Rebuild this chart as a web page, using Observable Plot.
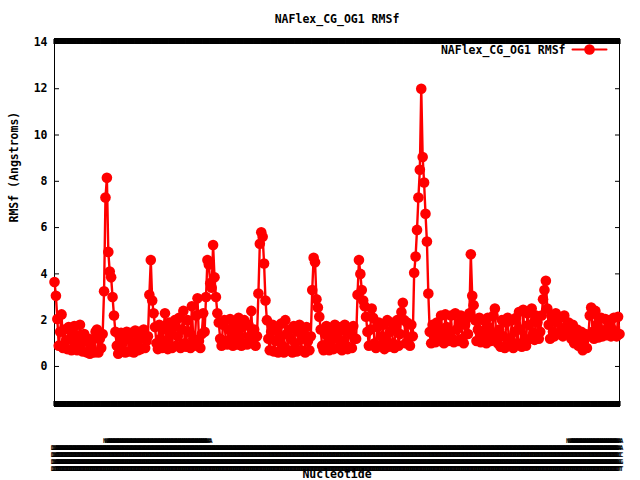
<!DOCTYPE html>
<html><head><meta charset="utf-8">
<script src="https://cdn.jsdelivr.net/npm/d3@7"></script>
<script src="https://cdn.jsdelivr.net/npm/@observablehq/plot@0.6"></script>
<style>body{margin:0;background:#fff;} svg{display:block}</style>
</head><body><div id="chart"></div>
<script>
const chartTitle = "NAFlex_CG_OG1 RMSf";
const seriesName = "NAFlex_CG_OG1 RMSf";
const yLabel = "RMSf (Angstroms)";
const xLabel = "Nucleotide";
const yTicks = [0, 2, 4, 6, 8, 10, 12, 14];
// RMSf per nucleotide
const rmsf = [
3.65,3.05,2.05,0.9,1.5,2.25,0.8,1.6,1.1,0.75,
1.7,1.2,0.7,1.5,1.75,0.9,0.7,1.3,1.8,1.0,
0.65,1.4,1.1,0.6,1.2,0.55,0.9,1.15,0.6,1.5,
1.6,0.6,1.2,0.8,
1.4,3.25,7.3,8.15,4.95,4.1,3.85,3.0,2.2,1.5,
0.9,0.55,1.3,1.45,0.7,1.1,0.6,1.5,1.2,0.65,
1.45,0.9,0.6,1.55,1.1,0.7,1.5,0.75,1.3,1.6,0.8,1.1,
1.3,3.1,4.6,2.85,2.3,1.7,1.0,
0.75,1.8,1.2,0.8,1.6,2.3,1.1,0.75,1.9,1.4,0.8,1.7,2.0,0.9,
1.3,2.1,0.8,1.6,2.4,1.0,0.85,2.0,1.5,0.8,2.6,1.2,0.9,2.2,2.95,1.1,0.8,
1.4,2.3,1.5,3.0,4.6,4.4,3.6,3.4,5.25,3.85,3.0,2.3,1.9,1.2,
0.9,1.8,2.0,1.1,0.95,1.6,2.05,1.2,0.9,1.9,1.5,0.95,2.1,1.3,0.9,1.7,2.0,1.0,0.95,1.8,1.3,2.4,
1.0,1.6,0.9,1.3,3.15,5.3,5.8,5.6,4.45,2.85,2.0,1.2,
0.7,1.5,1.8,0.65,1.1,1.7,0.6,1.3,1.85,0.9,
0.6,2.0,1.4,0.7,1.6,1.2,0.6,1.75,1.0,0.65,
1.5,1.8,0.7,1.2,1.65,0.6,1.7,1.1,0.7,1.3,
3.3,4.7,4.5,2.9,2.55,2.15,1.6,0.9,
0.7,1.4,1.75,1.0,0.7,1.6,1.3,0.75,1.8,1.2,
0.8,1.5,1.7,0.7,1.1,1.8,0.9,0.75,1.6,1.4,0.8,1.75,1.2,
1.2,3.1,4.6,4.0,3.3,2.85,2.6,2.15,1.5,0.9,1.6,2.5,2.1,
1.0,0.8,1.7,1.9,0.9,1.3,1.8,0.75,1.2,2.0,
0.85,1.5,1.9,1.0,0.8,1.7,2.0,0.9,1.4,
2.35,2.75,2.0,1.0,1.9,1.2,0.9,1.8,
1.3,4.05,4.75,5.9,7.3,8.5,12.0,9.05,7.95,6.6,5.4,3.15,1.5,
1.0,1.8,1.3,1.05,1.9,1.5,1.1,2.2,1.4,1.0,
2.25,1.7,1.1,1.5,2.2,1.2,1.05,2.3,1.6,1.1,
1.9,2.2,1.2,1.0,1.8,2.1,
1.4,2.3,4.85,3.05,2.65,2.0,1.1,
1.6,2.1,1.05,1.3,2.0,1.5,1.0,2.1,1.7,1.1,
1.4,2.2,2.5,1.2,1.0,
1.6,0.85,2.0,1.3,0.8,1.9,2.1,0.9,1.2,2.0,
0.8,1.5,2.1,1.0,2.35,1.6,0.85,2.45,1.2,0.9,
2.3,1.8,1.2,2.5,1.4,1.15,2.2,1.9,1.2,1.5,
2.2,2.9,3.3,3.7,2.5,1.8,1.2,
2.2,1.5,1.3,2.3,1.9,1.4,2.1,1.6,1.3,2.2,
1.7,1.4,1.9,1.5,1.2,1.8,1.0,1.4,1.6,0.9,
1.2,1.5,0.7,1.1,1.4,0.8,
1.3,2.2,2.55,1.5,1.2,2.4,1.8,1.25,1.6,2.1,
1.3,1.5,2.05,1.35,1.7,2.0,1.3,1.6,2.1,1.4,1.3,2.15,1.4
];
// x tick labels (overlapping, unreadable in the reference): stacked lines per nucleotide
const xTickLines = ["DA", "DC", "DG", "DT"];
const xTickExtraLine = "NA";
const xTickExtraRanges = [[37, 109], [364, 399]];

const data = rmsf.map((v, i) => ({nuc: i, rmsf: v}));
const nucs = data.map(d => d.nuc);
const tickLabel = i => (xTickExtraRanges.some(([a, b]) => i >= a && i <= b) ? [xTickExtraLine, ...xTickLines] : xTickLines).join("\n");

const font = "'DejaVu Sans Mono', monospace";
const fs = 11.5;

const chart = Plot.plot({
  width: 640,
  height: 480,
  marginLeft: 54,
  marginRight: 21,
  marginTop: 38,
  marginBottom: 74,
  style: {fontFamily: font, fontWeight: "bold", fontSize: fs + "px", background: "#fff", color: "#000"},
  x: {domain: [0, rmsf.length - 1]},
  y: {domain: [-1.73, 14.17]},
  marks: [
    Plot.frame({stroke: "#000", strokeWidth: 1}),
    Plot.axisY({anchor: "left", ticks: yTicks, tickSize: -5, tickPadding: 12, label: null, fontSize: fs}),
    Plot.axisY({anchor: "right", ticks: yTicks, tickSize: -5, tickFormat: () => "", label: null}),
    Plot.axisX({anchor: "bottom", ticks: nucs, tickSize: -5, tickFormat: () => "", label: null, strokeWidth: 2.2}),
    Plot.axisX({anchor: "top", ticks: nucs, tickSize: -5, tickFormat: () => "", label: null, strokeWidth: 2.2}),
    Plot.text([xLabel], {frameAnchor: "bottom", dy: 71, lineAnchor: "bottom", fontSize: fs}),
    Plot.text(nucs, {x: d => d, frameAnchor: "bottom", dy: 64, text: d => tickLabel(d), lineAnchor: "bottom", lineHeight: 7 / 6.4, fontSize: 6.4, fontWeight: "bold"}),
    Plot.text([chartTitle], {frameAnchor: "top", dy: -16, lineAnchor: "bottom", fontSize: fs}),
    Plot.text([yLabel], {frameAnchor: "left", dx: -40, rotate: -90, fontSize: fs}),
    Plot.line(data, {x: "nuc", y: "rmsf", stroke: "#ff0000", strokeWidth: 2.4}),
    Plot.dot(data, {x: "nuc", y: "rmsf", r: 5.3, fill: "#ff0000"}),
    Plot.text([seriesName], {frameAnchor: "top-right", dx: -54, dy: 15, lineAnchor: "bottom", textAnchor: "end", fontSize: fs}),
    Plot.vector([seriesName], {frameAnchor: "top-right", dx: -47, dy: 11, length: 34, rotate: 90, anchor: "start", stroke: "#ff0000", strokeWidth: 2,
      shape: {draw(context, l) { context.moveTo(0, 0); context.lineTo(0, -l); }}}),
    Plot.dot([seriesName], {frameAnchor: "top-right", dx: -30, dy: 11, r: 5.3, fill: "#ff0000"})
  ]
});
document.getElementById("chart").appendChild(chart);
</script>
</body></html>
